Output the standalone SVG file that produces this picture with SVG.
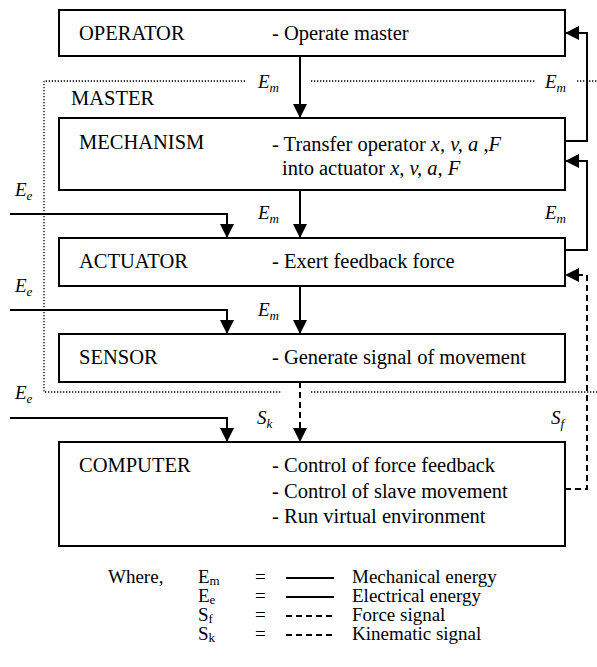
<svg xmlns="http://www.w3.org/2000/svg" width="597" height="667" viewBox="0 0 597 667" font-family="'Liberation Serif', 'Times New Roman', 'DejaVu Serif', serif">
<defs>
<style>
text{font-family:'Liberation Serif','Times New Roman','DejaVu Serif',serif;fill:#000}
.t{font-size:20.5px}
.g{font-size:19px}
.l{font-size:19px;font-style:italic}
.s{font-size:13px}
.box{fill:#fff;stroke:#000;stroke-width:2}
.ln{fill:none;stroke:#000;stroke-width:2}
.da{fill:none;stroke:#000;stroke-width:2;stroke-dasharray:6 4}
.dot{fill:none;stroke:#000;stroke-width:1.3;stroke-dasharray:1.3 1.7}
</style>
<marker id="ah" viewBox="0 0 14 14" refX="14" refY="7" markerWidth="14" markerHeight="14" markerUnits="userSpaceOnUse" orient="auto">
<path d="M0,0 L14,7 L0,14 Z" fill="#000"/>
</marker>
</defs>
<rect width="597" height="667" fill="#fff"/>

<g id="master-boundary">
<path class="dot" d="M245,81 H44 V392 H282"/>
<path class="dot" d="M311,81 H535"/>
<path class="dot" d="M577,81 H597"/>
<path class="dot" d="M311,392 H597"/>
<text class="t" x="71" y="105">MASTER</text>
</g>

<g id="connectors">
<path class="ln" d="M300,56 V118" marker-end="url(#ah)"/>
<path class="ln" d="M300,190 V238" marker-end="url(#ah)"/>
<path class="ln" d="M300,286 V334" marker-end="url(#ah)"/>
<path class="da" d="M300,382 V442" marker-end="url(#ah)"/>
<path class="ln" d="M10,214 H227 V238" marker-end="url(#ah)"/>
<path class="ln" d="M10,310 H227 V334" marker-end="url(#ah)"/>
<path class="ln" d="M10,418 H227 V442" marker-end="url(#ah)"/>
<path class="ln" d="M565,141 H587 V33 H565" marker-end="url(#ah)"/>
<path class="ln" d="M565,250 H587 V161 H565" marker-end="url(#ah)"/>
<path class="da" d="M565,489 H587 V275 H565" marker-end="url(#ah)"/>
<text class="l" x="258" y="88">E<tspan class="s" dy="4">m</tspan></text>
<text class="l" x="545" y="88">E<tspan class="s" dy="4">m</tspan></text>
<text class="l" x="258" y="219">E<tspan class="s" dy="4">m</tspan></text>
<text class="l" x="545" y="219">E<tspan class="s" dy="4">m</tspan></text>
<text class="l" x="258" y="316">E<tspan class="s" dy="4">m</tspan></text>
<text class="l" x="15" y="196">E<tspan class="s" dy="4">e</tspan></text>
<text class="l" x="15" y="292">E<tspan class="s" dy="4">e</tspan></text>
<text class="l" x="15" y="399">E<tspan class="s" dy="4">e</tspan></text>
<text class="l" x="257" y="424">S<tspan class="s" dy="4">k</tspan></text>
<text class="l" x="551" y="424">S<tspan class="s" dy="4">f</tspan></text>
</g>

<g id="operator">
<rect class="box" x="59" y="10" width="506" height="46"/>
<text class="t" x="79" y="40">OPERATOR</text>
<text class="t" x="272" y="40">- Operate master</text>
</g>

<g id="mechanism">
<rect class="box" x="59" y="118" width="506" height="72"/>
<text class="t" x="79" y="149">MECHANISM</text>
<text class="t" x="272" y="151">- Transfer operator <tspan font-style="italic">x, v, a</tspan> ,<tspan font-style="italic">F</tspan></text>
<text class="t" x="282" y="175">into actuator <tspan font-style="italic">x, v, a, F</tspan></text>
</g>

<g id="actuator">
<rect class="box" x="59" y="238" width="506" height="48"/>
<text class="t" x="79" y="268">ACTUATOR</text>
<text class="t" x="272" y="268">- Exert feedback force</text>
</g>

<g id="sensor">
<rect class="box" x="59" y="334" width="506" height="48"/>
<text class="t" x="79" y="364">SENSOR</text>
<text class="t" x="272" y="364">- Generate signal of movement</text>
</g>

<g id="computer">
<rect class="box" x="59" y="442" width="506" height="104"/>
<text class="t" x="79" y="472">COMPUTER</text>
<text class="t" x="272" y="472">- Control of force feedback</text>
<text class="t" x="272" y="498">- Control of slave movement</text>
<text class="t" x="272" y="523">- Run virtual environment</text>
</g>

<g id="legend">
<text class="g" x="108" y="583">Where,</text>
<text class="g" x="198" y="583">E<tspan class="s" dy="2">m</tspan></text>
<text class="g" x="198" y="602">E<tspan class="s" dy="2">e</tspan></text>
<text class="g" x="198" y="621">S<tspan class="s" dy="2">f</tspan></text>
<text class="g" x="198" y="640">S<tspan class="s" dy="2">k</tspan></text>
<text class="g" x="255" y="583">=</text>
<text class="g" x="255" y="602">=</text>
<text class="g" x="255" y="621">=</text>
<text class="g" x="255" y="640">=</text>
<path class="ln" d="M286,578 H334"/>
<path class="ln" d="M286,597 H334"/>
<path class="da" d="M286,616 H334" stroke-dasharray="6 5"/>
<path class="da" d="M286,635 H334" stroke-dasharray="6 5"/>
<text class="g" x="352" y="583">Mechanical energy</text>
<text class="g" x="352" y="602">Electrical energy</text>
<text class="g" x="352" y="621">Force signal</text>
<text class="g" x="352" y="640">Kinematic signal</text>
</g>
</svg>
